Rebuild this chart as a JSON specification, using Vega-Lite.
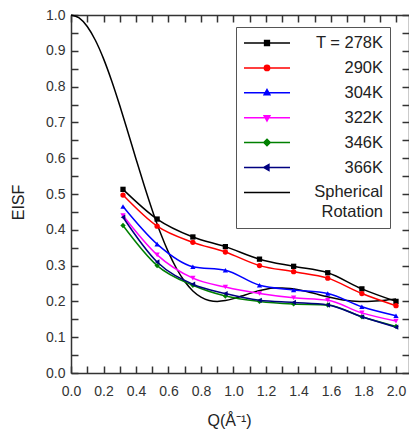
{
  "$schema": "https://vega.github.io/schema/vega-lite/v6.json",
  "width": 338,
  "height": 358,
  "autosize": {"type": "none"},
  "padding": {"left": 71, "top": 15, "right": 0, "bottom": 59},
  "background": "white",
  "config": {
    "view": {"stroke": null},
    "font": "Liberation Sans",
    "axis": {"grid": false, "domainColor": "#333", "domainWidth": 1.5, "tickColor": "#333", "tickWidth": 1.5, "labelColor": "#333", "titleColor": "#222", "labelFont": "Liberation Sans", "titleFont": "Liberation Sans", "labelFontSize": 14, "titleFontSize": 16, "titleFontWeight": "normal", "labelOverlap": false, "labelFlush": false, "labelBound": false}
  },
  "datasets": {
    "temps": [
      {"series": "278K", "Q": 0.32, "EISF": 0.513}, {"series": "278K", "Q": 0.53, "EISF": 0.43}, {"series": "278K", "Q": 0.75, "EISF": 0.38}, {"series": "278K", "Q": 0.95, "EISF": 0.353}, {"series": "278K", "Q": 1.16, "EISF": 0.318}, {"series": "278K", "Q": 1.37, "EISF": 0.298}, {"series": "278K", "Q": 1.58, "EISF": 0.28}, {"series": "278K", "Q": 1.79, "EISF": 0.235}, {"series": "278K", "Q": 2.0, "EISF": 0.2},
      {"series": "290K", "Q": 0.32, "EISF": 0.497}, {"series": "290K", "Q": 0.53, "EISF": 0.41}, {"series": "290K", "Q": 0.75, "EISF": 0.365}, {"series": "290K", "Q": 0.95, "EISF": 0.338}, {"series": "290K", "Q": 1.16, "EISF": 0.3}, {"series": "290K", "Q": 1.37, "EISF": 0.283}, {"series": "290K", "Q": 1.58, "EISF": 0.265}, {"series": "290K", "Q": 1.79, "EISF": 0.222}, {"series": "290K", "Q": 2.0, "EISF": 0.188},
      {"series": "304K", "Q": 0.32, "EISF": 0.465}, {"series": "304K", "Q": 0.53, "EISF": 0.36}, {"series": "304K", "Q": 0.75, "EISF": 0.297}, {"series": "304K", "Q": 0.95, "EISF": 0.287}, {"series": "304K", "Q": 1.16, "EISF": 0.245}, {"series": "304K", "Q": 1.37, "EISF": 0.232}, {"series": "304K", "Q": 1.58, "EISF": 0.222}, {"series": "304K", "Q": 1.79, "EISF": 0.185}, {"series": "304K", "Q": 2.0, "EISF": 0.16},
      {"series": "322K", "Q": 0.32, "EISF": 0.44}, {"series": "322K", "Q": 0.53, "EISF": 0.33}, {"series": "322K", "Q": 0.75, "EISF": 0.265}, {"series": "322K", "Q": 0.95, "EISF": 0.24}, {"series": "322K", "Q": 1.16, "EISF": 0.222}, {"series": "322K", "Q": 1.37, "EISF": 0.21}, {"series": "322K", "Q": 1.58, "EISF": 0.203}, {"series": "322K", "Q": 1.79, "EISF": 0.168}, {"series": "322K", "Q": 2.0, "EISF": 0.145},
      {"series": "346K", "Q": 0.32, "EISF": 0.412}, {"series": "346K", "Q": 0.53, "EISF": 0.3}, {"series": "346K", "Q": 0.75, "EISF": 0.245}, {"series": "346K", "Q": 0.95, "EISF": 0.215}, {"series": "346K", "Q": 1.16, "EISF": 0.2}, {"series": "346K", "Q": 1.37, "EISF": 0.193}, {"series": "346K", "Q": 1.58, "EISF": 0.19}, {"series": "346K", "Q": 1.79, "EISF": 0.157}, {"series": "346K", "Q": 2.0, "EISF": 0.13},
      {"series": "366K", "Q": 0.32, "EISF": 0.435}, {"series": "366K", "Q": 0.53, "EISF": 0.31}, {"series": "366K", "Q": 0.75, "EISF": 0.248}, {"series": "366K", "Q": 0.95, "EISF": 0.222}, {"series": "366K", "Q": 1.16, "EISF": 0.203}, {"series": "366K", "Q": 1.37, "EISF": 0.197}, {"series": "366K", "Q": 1.58, "EISF": 0.19}, {"series": "366K", "Q": 1.79, "EISF": 0.157}, {"series": "366K", "Q": 2.0, "EISF": 0.128}
    ],
    "model": [
      {"series": "Spherical", "Q": 0.0, "EISF": 1.0}, {"series": "Spherical", "Q": 0.05, "EISF": 0.9919}, {"series": "Spherical", "Q": 0.1, "EISF": 0.968}, {"series": "Spherical", "Q": 0.15, "EISF": 0.9295}, {"series": "Spherical", "Q": 0.2, "EISF": 0.8782}, {"series": "Spherical", "Q": 0.25, "EISF": 0.8164}, {"series": "Spherical", "Q": 0.3, "EISF": 0.7471}, {"series": "Spherical", "Q": 0.35, "EISF": 0.6733}, {"series": "Spherical", "Q": 0.4, "EISF": 0.5979}, {"series": "Spherical", "Q": 0.45, "EISF": 0.5242}, {"series": "Spherical", "Q": 0.5, "EISF": 0.4547}, {"series": "Spherical", "Q": 0.55, "EISF": 0.3916}, {"series": "Spherical", "Q": 0.6, "EISF": 0.3368}, {"series": "Spherical", "Q": 0.65, "EISF": 0.2912}, {"series": "Spherical", "Q": 0.7, "EISF": 0.2554}, {"series": "Spherical", "Q": 0.75, "EISF": 0.2292}, {"series": "Spherical", "Q": 0.8, "EISF": 0.212}, {"series": "Spherical", "Q": 0.85, "EISF": 0.2027}, {"series": "Spherical", "Q": 0.9, "EISF": 0.2}, {"series": "Spherical", "Q": 0.95, "EISF": 0.2022}, {"series": "Spherical", "Q": 1.0, "EISF": 0.2077}, {"series": "Spherical", "Q": 1.05, "EISF": 0.2149}, {"series": "Spherical", "Q": 1.1, "EISF": 0.2224}, {"series": "Spherical", "Q": 1.15, "EISF": 0.2291}, {"series": "Spherical", "Q": 1.2, "EISF": 0.2342}, {"series": "Spherical", "Q": 1.25, "EISF": 0.2371}, {"series": "Spherical", "Q": 1.3, "EISF": 0.2377}, {"series": "Spherical", "Q": 1.35, "EISF": 0.236}, {"series": "Spherical", "Q": 1.4, "EISF": 0.2325}, {"series": "Spherical", "Q": 1.45, "EISF": 0.2276}, {"series": "Spherical", "Q": 1.5, "EISF": 0.2219}, {"series": "Spherical", "Q": 1.55, "EISF": 0.216}, {"series": "Spherical", "Q": 1.6, "EISF": 0.2106}, {"series": "Spherical", "Q": 1.65, "EISF": 0.206}, {"series": "Spherical", "Q": 1.7, "EISF": 0.2027}, {"series": "Spherical", "Q": 1.75, "EISF": 0.2006}, {"series": "Spherical", "Q": 1.8, "EISF": 0.2}, {"series": "Spherical", "Q": 1.85, "EISF": 0.2006}, {"series": "Spherical", "Q": 1.9, "EISF": 0.2021}, {"series": "Spherical", "Q": 1.95, "EISF": 0.2043}, {"series": "Spherical", "Q": 2.0, "EISF": 0.2068}
    ]
  },
  "resolve": {"axis": {"x": "independent", "y": "independent"}},
  "layer": [
    {
      "data": {"name": "model"},
      "mark": {"type": "line", "strokeWidth": 1.5, "interpolate": "monotone"},
      "encoding": {
        "x": {"field": "Q", "type": "quantitative", "scale": {"domain": [0, 2.08], "nice": false},
          "axis": {"orient": "bottom", "title": "Q(Å⁻¹)", "titleX": 158, "titlePadding": 14, "values": [0,0.1,0.2,0.3,0.4,0.5,0.6,0.7,0.8,0.9,1.0,1.1,1.2,1.3,1.4,1.5,1.6,1.7,1.8,1.9,2.0],
            "labelExpr": "round(datum.value*10)%2==0 ? format(datum.value,'.1f') : ''", "tickSize": -7, "labelPadding": 18,
            "encode": {"ticks": {"update": {"y2": {"signal": "round(datum.value*10)%2==0 ? -7 : -4"}}}}}},
        "y": {"field": "EISF", "type": "quantitative", "scale": {"domain": [0, 1], "nice": false},
          "axis": {"orient": "left", "title": "EISF", "titlePadding": 19, "titleY": 187, "values": [0,0.05,0.1,0.15,0.2,0.25,0.3,0.35,0.4,0.45,0.5,0.55,0.6,0.65,0.7,0.75,0.8,0.85,0.9,0.95,1.0],
            "labelExpr": "round(datum.value*100)%10==0 ? format(datum.value,'.1f') : ''", "tickSize": -7, "labelPadding": 13,
            "encode": {"ticks": {"update": {"x2": {"signal": "round(datum.value*100)%10==0 ? 7 : 4"}}}}}},
        "color": {"field": "series", "type": "nominal",
          "scale": {"domain": ["278K", "290K", "304K", "322K", "346K", "366K", "Spherical"], "range": ["#000000", "#ff0000", "#0000ff", "#ff00ff", "#008000", "#000080", "#000000"]},
          "legend": {"orient": "none", "legendX": 165, "legendY": 12, "padding": 7, "strokeColor": "#555", "fillColor": "white",
            "title": "Rotation", "titleOrient": "bottom", "titleAnchor": "end", "titleFontSize": 16.5, "titleFontWeight": "normal", "titleColor": "#222", "titleFont": "Liberation Sans", "titlePadding": 3,
            "symbolType": "M-2.875,0H2.875", "symbolSize": 256, "symbolOffset": 15, "symbolStrokeWidth": 1.5, "labelFontSize": 16.5, "labelColor": "#222", "labelFont": "Liberation Sans",
            "labelAlign": "right", "labelOffset": 107, "rowPadding": 6.9,
            "labelExpr": "datum.label == '278K' ? 'T = 278K' : datum.label",
            "encode": {"symbols": {"update": {
              "shape": {"signal": "datum.value == '278K' ? 'M-2.875,0H2.875M-0.3,-0.3H0.3V0.3H-0.3Z' : datum.value == '290K' ? 'M-2.875,0H2.875M-0.33,0A0.33,0.33,0,1,0,0.33,0A0.33,0.33,0,1,0,-0.33,0Z' : datum.value == '304K' ? 'M-2.875,0H2.875M0,-0.4L0.36,0.24H-0.36Z' : datum.value == '322K' ? 'M-2.875,0H2.875M0,0.4L0.36,-0.24H-0.36Z' : datum.value == '346K' ? 'M-2.875,0H2.875M0,-0.4L0.4,0L0,0.4L-0.4,0Z' : datum.value == '366K' ? 'M-2.875,0H2.875M-0.4,0L0.24,-0.36V0.36Z' : 'M-2.875,0H2.875'"},
              "fill": {"signal": "scale('color', datum.value)"},
              "stroke": {"signal": "scale('color', datum.value)"},
              "opacity": {"value": 1},
              "fillOpacity": {"value": 1}
            }}}}}
      }
    },
    {
      "data": {"name": "temps"},
      "mark": {"type": "line", "strokeWidth": 1.5, "interpolate": "monotone"},
      "encoding": {
        "x": {"field": "Q", "type": "quantitative",
          "axis": {"orient": "top", "title": null, "labels": false, "values": [0,0.1,0.2,0.3,0.4,0.5,0.6,0.7,0.8,0.9,1.0,1.1,1.2,1.3,1.4,1.5,1.6,1.7,1.8,1.9,2.0], "tickSize": -7,
            "encode": {"ticks": {"update": {"y2": {"signal": "round(datum.value*10)%2==0 ? 7 : 4"}}}}}},
        "y": {"field": "EISF", "type": "quantitative",
          "axis": {"orient": "right", "title": null, "labels": false, "values": [0,0.05,0.1,0.15,0.2,0.25,0.3,0.35,0.4,0.45,0.5,0.55,0.6,0.65,0.7,0.75,0.8,0.85,0.9,0.95,1.0], "tickSize": -7,
            "encode": {"ticks": {"update": {"x2": {"signal": "round(datum.value*100)%10==0 ? -7 : -4"}}}}}},
        "color": {"field": "series", "type": "nominal"}
      }
    },
    {
      "data": {"name": "temps"},
      "mark": {"type": "point", "filled": true, "opacity": 1, "size": 28},
      "encoding": {
        "x": {"field": "Q", "type": "quantitative", "axis": null},
        "y": {"field": "EISF", "type": "quantitative", "axis": null},
        "color": {"field": "series", "type": "nominal"},
        "shape": {"field": "series", "type": "nominal", "legend": null,
          "scale": {"domain": ["278K", "290K", "304K", "322K", "346K", "366K"], "range": ["square", "circle", "triangle-up", "triangle-down", "diamond", "triangle-left"]}}
      }
    }
  ]
}
